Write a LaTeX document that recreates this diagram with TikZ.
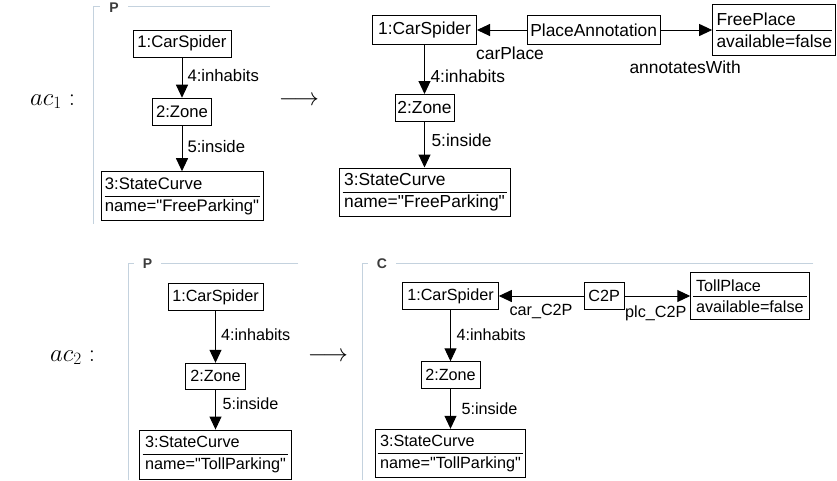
\documentclass[tikz,border=0pt]{standalone}
\usepackage[no-math]{fontspec}
\newfontfamily\umlfont{Liberation Sans}
\usetikzlibrary{arrows.meta}
\definecolor{framecol}{RGB}{196,210,222}
\definecolor{titlecol}{RGB}{60,60,60}
\begin{document}
\begin{tikzpicture}[x=1pt,y=-1pt,>={Triangle[length=13pt,width=12pt]},
    obj/.style={draw,line width=1pt,inner sep=0pt,minimum height=27pt},
    twopart/.style={obj,align=left,minimum height=49pt},
    link/.style={->,line width=1pt},
    lbl/.style={inner sep=1pt},
    frameline/.style={draw=framecol,line width=1pt},
    frametitle/.style={font=\umlfont\bfseries\fontsize{14}{16}\selectfont,text=titlecol,fill=white,inner xsep=9pt,inner ysep=1pt},
    mathlbl/.style={font=\fontsize{24}{28}\selectfont,inner sep=0pt}]
\useasboundingbox (0,0) rectangle (837,480);

% first constraint
\node[mathlbl,anchor=base west] (ac1) at (30,105) {$ac_1:$};
\node[mathlbl,anchor=base] (to1) at (299,105) {$\longrightarrow$};

\begin{scope}[font=\umlfont\fontsize{16.7}{21.7}\selectfont]
\draw[frameline] (270,6.7) -- (93,6.7) -- (93,224);
\node[frametitle] (p1title) at (114,8) {P};
\node[obj,minimum width=98pt] (p1car) at (182,43.5) {1:CarSpider};
\node[obj,minimum width=59pt] (p1zone) at (182,111.7) {2:Zone};
\node[twopart,minimum width=162pt] (p1sc) at (182,196.2) {3:StateCurve\\name="FreeParking"};
\draw[line width=1pt] ([xshift=4pt]p1sc.west) -- ([xshift=-4pt]p1sc.east);
\draw[link] (p1car) -- node[lbl,right=4pt,pos=.46] (p1inh) {4:inhabits} (p1zone);
\draw[link] (p1zone) -- node[lbl,right=4pt,pos=.45] (p1ins) {5:inside} (p1sc);
\end{scope}

\begin{scope}[font=\umlfont\fontsize{17.4}{22.4}\selectfont]
\node[obj,minimum width=104pt,minimum height=28.5pt] (c1car) at (424.5,30) {1:CarSpider};
\node[obj,minimum width=133pt,minimum height=29pt] (c1ann) at (593.7,30) {PlaceAnnotation};
\node[twopart,minimum width=123.3pt,minimum height=51.7pt] (c1free) at (774.3,30) {FreePlace\\available=false};
\draw[line width=1pt] ([xshift=4pt]c1free.west) -- ([xshift=-4pt]c1free.east);
\node[obj,minimum width=59pt] (c1zone) at (424.5,108) {2:Zone};
\node[twopart,minimum width=171pt,minimum height=48pt] (c1sc) at (424.5,192) {3:StateCurve\\name="FreeParking"};
\draw[line width=1pt] ([xshift=4pt]c1sc.west) -- ([xshift=-4pt]c1sc.east);
\draw[link] (c1ann) -- (c1car);
\draw[link] (c1ann) -- (c1free);
\node[lbl,anchor=west] (c1role1) at (475,53.3) {carPlace};
\node[lbl,anchor=west] (c1role2) at (628.3,67) {annotatesWith};
\draw[link] (c1car) -- node[lbl,right=4.5pt,pos=.64] (c1inh) {4:inhabits} (c1zone);
\draw[link] (c1zone) -- node[lbl,right=5.5pt,pos=.4] (c1ins) {5:inside} (c1sc);
\end{scope}

% second constraint
\node[mathlbl,anchor=base west] (ac2) at (50,361) {$ac_2:$};
\node[mathlbl,anchor=base] (to2) at (328,361) {$\longrightarrow$};

\begin{scope}[font=\umlfont\fontsize{16.2}{21.4}\selectfont]
\draw[frameline] (298.3,263.3) -- (128.3,263.3) -- (128.3,480);
\node[frametitle] (p2title) at (147.5,264) {P};
\node[obj,minimum width=95pt] (p2car) at (215.5,297.3) {1:CarSpider};
\node[obj,minimum width=60pt,minimum height=26pt] (p2zone) at (215.5,376.3) {2:Zone};
\node[twopart,minimum width=152.6pt,minimum height=49.3pt] (p2sc) at (215.5,454.7) {3:StateCurve\\name="TollParking"};
\draw[line width=1pt] ([xshift=4pt]p2sc.west) -- ([xshift=-4pt]p2sc.east);
\draw[link] (p2car) -- node[lbl,right=4pt,pos=.45] (p2inh) {4:inhabits} (p2zone);
\draw[link] (p2zone) -- node[lbl,right=5.5pt,pos=.36] (p2ins) {5:inside} (p2sc);

\draw[frameline] (813.3,263.3) -- (362.7,263.3) -- (362.7,480);
\node[frametitle] (c2title) at (382,264) {C};
\node[obj,minimum width=95.6pt] (c2car) at (450.5,296) {1:CarSpider};
\node[obj,minimum width=39.7pt] (c2p) at (604.2,296) {C2P};
\node[twopart,minimum width=118.3pt,minimum height=47.2pt] (c2toll) at (749.9,296) {TollPlace\\available=false};
\draw[line width=1pt] ([xshift=3pt]c2toll.west) -- ([xshift=-3pt]c2toll.east);
\node[obj,minimum width=59pt] (c2zone) at (450.5,375.3) {2:Zone};
\node[twopart,minimum width=150.7pt,minimum height=48.4pt] (c2sc) at (450.5,453.5) {3:StateCurve\\name="TollParking"};
\draw[line width=1pt] ([xshift=3pt]c2sc.west) -- ([xshift=-3pt]c2sc.east);
\draw[link] (c2p) -- (c2car);
\draw[link] (c2p) -- (c2toll);
\node[lbl,anchor=west] (c2role1) at (508.3,311.7) {car\_C2P};
\node[lbl,anchor=west] (c2role2) at (624,313.3) {plc\_C2P};
\draw[link] (c2car) -- node[lbl,right=4.5pt,pos=.48] (c2inh) {4:inhabits} (c2zone);
\draw[link] (c2zone) -- node[lbl,right=9.5pt,pos=.48] (c2ins) {5:inside} (c2sc);
\end{scope}
\end{tikzpicture}
\end{document}
